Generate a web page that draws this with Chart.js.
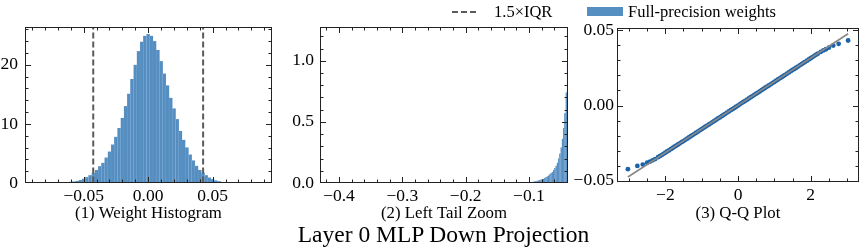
<!DOCTYPE html>
<html>
<head>
<meta charset="utf-8">
<script src="https://cdn.jsdelivr.net/npm/chart.js@4.4.1/dist/chart.umd.min.js"></script>
<style>
  html, body { margin: 0; padding: 0; background: #fff; }
  #wrap { position: relative; width: 863px; height: 248px; overflow: hidden; background: #fff; font-family: "Liberation Serif", serif; color: #000; }
  canvas { position: absolute; top: 0; }
  .txt { position: absolute; white-space: nowrap; }
</style>
</head>
<body>
<div id="wrap">
  <canvas id="c1" width="280" height="224" style="left:0px"></canvas>
  <canvas id="c2" width="297" height="224" style="left:278px"></canvas>
  <canvas id="c3" width="295" height="224" style="left:568px"></canvas>
  <svg class="txt" style="left:452px;top:7px" width="26" height="10"><line x1="0" y1="5" x2="26" y2="5" stroke="#5a5a5a" stroke-width="2" stroke-dasharray="6,3"/></svg>
  <div class="txt" id="leg1" style="left:494px;top:2px;font-size:16.5px;line-height:20px;">1.5×IQR</div>
  <div class="txt" style="left:587px;top:7px;width:36px;height:9px;background:#558ec0;"></div>
  <div class="txt" id="leg2" style="left:628px;top:2px;font-size:16.5px;line-height:20px;">Full-precision weights</div>
  <div class="txt" id="suptitle" style="left:0px;width:887px;text-align:center;top:221px;font-size:23.5px;line-height:26px;">Layer 0 MLP Down Projection</div>
</div>
<script>
// ---------- DATA ----------
const histBinCenters = [-0.0700,-0.0675,-0.0650,-0.0625,-0.0600,-0.0575,-0.0550,-0.0525,-0.0500,-0.0475,-0.0450,-0.0425,-0.0400,-0.0375,-0.0350,-0.0325,-0.0300,-0.0275,-0.0250,-0.0225,-0.0200,-0.0175,-0.0150,-0.0125,-0.0100,-0.0075,-0.0050,-0.0025,0.0000,0.0025,0.0050,0.0075,0.0100,0.0125,0.0150,0.0175,0.0200,0.0225,0.0250,0.0275,0.0300,0.0325,0.0350,0.0375,0.0400,0.0425,0.0450,0.0475,0.0500,0.0525,0.0550,0.0575,0.0600,0.0625,0.0650,0.0675,0.0700];
const histDensity = [0.02,0.04,0.07,0.12,0.18,0.26,0.36,0.5,0.7,1.0,1.3,1.7,2.2,2.8,3.4,4.3,5.3,6.5,7.8,9.3,11.0,13.0,15.1,17.6,20.0,22.3,23.9,24.9,25.2,24.9,24.0,22.5,20.6,18.5,16.5,14.4,12.6,10.8,8.8,7.3,6.0,4.8,3.8,2.9,2.2,1.7,1.3,0.9,0.62,0.42,0.27,0.17,0.11,0.07,0.04,0.02,0.01];
const iqrFences = [-0.0426, 0.0426];

const tailBinCenters = [-0.099,-0.097,-0.095,-0.093,-0.091,-0.089,-0.087,-0.085,-0.083,-0.081,-0.079,-0.077,-0.075,-0.073,-0.071,-0.069,-0.067,-0.065,-0.063,-0.061,-0.059,-0.057,-0.055,-0.053,-0.051,-0.049,-0.047,-0.045,-0.043,-0.041,-0.039];
const tailDensity = [0.005,0.006,0.008,0.01,0.012,0.014,0.017,0.02,0.023,0.027,0.03,0.035,0.04,0.046,0.053,0.06,0.07,0.08,0.09,0.105,0.12,0.14,0.165,0.2,0.24,0.29,0.36,0.45,0.57,0.74,0.97];

const qqTheoretical = [-3.03,-2.77,-2.62,-2.50,-2.42,-2.35,-2.28,
 -2.20,-2.15,-2.10,-2.05,-2.00,-1.95,-1.90,-1.85,-1.80,-1.75,-1.70,-1.65,-1.60,-1.55,-1.50,-1.45,-1.40,-1.35,-1.30,-1.25,-1.20,-1.15,-1.10,-1.05,-1.00,-0.95,-0.90,-0.85,-0.80,-0.75,-0.70,-0.65,-0.60,-0.55,-0.50,-0.45,-0.40,-0.35,-0.30,-0.25,-0.20,-0.15,-0.10,-0.05,
 0.00,0.05,0.10,0.15,0.20,0.25,0.30,0.35,0.40,0.45,0.50,0.55,0.60,0.65,0.70,0.75,0.80,0.85,0.90,0.95,1.00,1.05,1.10,1.15,1.20,1.25,1.30,1.35,1.40,1.45,1.50,1.55,1.60,1.65,1.70,1.75,1.80,1.85,1.90,1.95,2.00,2.05,2.10,2.15,2.20,
 2.28,2.35,2.42,2.50,2.62,2.77,3.03];
const qqSample = [-0.0423,-0.0401,-0.0392,-0.0380,-0.0372,-0.0364,-0.0356,
 -0.0343,-0.0336,-0.0329,-0.0321,-0.0313,-0.0305,-0.0298,-0.0290,-0.0282,-0.0274,-0.0267,-0.0259,-0.0251,-0.0243,-0.0236,-0.0228,-0.0220,-0.0212,-0.0204,-0.0196,-0.0188,-0.0181,-0.0173,-0.0165,-0.0157,-0.0149,-0.0141,-0.0133,-0.0126,-0.0118,-0.0110,-0.0102,-0.0094,-0.0086,-0.0079,-0.0071,-0.0063,-0.0055,-0.0047,-0.0039,-0.0031,-0.0024,-0.0016,-0.0008,
 0.0000,0.0008,0.0016,0.0024,0.0031,0.0039,0.0047,0.0055,0.0063,0.0071,0.0079,0.0086,0.0094,0.0102,0.0110,0.0118,0.0126,0.0133,0.0141,0.0149,0.0157,0.0165,0.0173,0.0181,0.0188,0.0196,0.0204,0.0212,0.0220,0.0228,0.0236,0.0243,0.0251,0.0259,0.0267,0.0275,0.0283,0.0290,0.0298,0.0306,0.0314,0.0322,0.0330,0.0338,0.0345,
 0.0357,0.0366,0.0374,0.0384,0.0398,0.0410,0.0432];
const qqFitX = [-3.03, 3.03];
const qqFitY = [-0.0475, 0.0477];

const histXTicks = [-0.05, 0, 0.05];
const histXTickLabels = ['\u22120.05', '0.00', '0.05'];
const histYTicks = [0, 10, 20];
const histYTickLabels = ['0', '10', '20'];
const tailXTicks = [-0.4, -0.3, -0.2, -0.1];
const tailXTickLabels = ['\u22120.4', '\u22120.3', '\u22120.2', '\u22120.1'];
const tailYTicks = [0, 0.5, 1.0];
const tailYTickLabels = ['0.0', '0.5', '1.0'];
const qqXTicks = [-2, 0, 2];
const qqXTickLabels = ['\u22122', '0', '2'];
const qqYTicks = [-0.05, 0, 0.05];
const qqYTickLabels = ['\u22120.05', '0.00', '0.05'];

const subTitles = ['(1) Weight Histogram', '(2) Left Tail Zoom', '(3) Q-Q Plot'];

// ---------- STYLE / HELPERS ----------
const FONT = '"Liberation Serif", serif';
const BAR_COLOR = '#558ec0';
const BAR_EDGE = '#9dbde0';

const framePlugin = {
  id: 'frame',
  afterDatasetsDraw(chart, args, opts) {
    const { ctx, chartArea: a, scales: { x, y } } = chart;
    const L = Math.round(a.left) + 0.5, R = Math.round(a.right) - 0.5;
    const T = Math.round(a.top) + 0.5, B = Math.round(a.bottom) - 0.5;
    ctx.save();
    if (opts.vlines) {
      ctx.strokeStyle = '#5a5a5a';
      ctx.lineWidth = 2;
      ctx.setLineDash([6, 3]);
      for (const v of opts.vlines) {
        const px = x.getPixelForValue(v);
        ctx.beginPath(); ctx.moveTo(px, B); ctx.lineTo(px, T); ctx.stroke();
      }
      ctx.setLineDash([]);
    }
    ctx.strokeStyle = '#222';
    ctx.lineWidth = 1;
    const tick = (vals, len) => {
      for (const v of vals) {
        const px = Math.round(x.getPixelForValue(v)) + 0.5;
        if (px < L - 0.1 || px > R + 0.1) continue;
        ctx.beginPath(); ctx.moveTo(px, B); ctx.lineTo(px, B - len); ctx.stroke();
        ctx.beginPath(); ctx.moveTo(px, T); ctx.lineTo(px, T + len); ctx.stroke();
      }
    };
    const ytick = (vals, len) => {
      for (const v of vals) {
        const py = Math.round(y.getPixelForValue(v)) + 0.5;
        if (py < T - 0.1 || py > B + 0.1) continue;
        ctx.beginPath(); ctx.moveTo(L, py); ctx.lineTo(L + len, py); ctx.stroke();
        ctx.beginPath(); ctx.moveTo(R, py); ctx.lineTo(R - len, py); ctx.stroke();
      }
    };
    const minors = (scale, step) => {
      const out = [];
      const start = Math.ceil(scale.min / step - 1e-9);
      const end = Math.floor(scale.max / step + 1e-9);
      for (let k = start; k <= end; k++) out.push(k * step);
      return out;
    };
    tick(minors(x, opts.xMinor), 3);
    ytick(minors(y, opts.yMinor), 3);
    tick(x.ticks.map(t => t.value), 5.5);
    ytick(y.ticks.map(t => t.value), 5.5);
    ctx.strokeRect(L, T, R - L, B - T);
    ctx.restore();
  }
};

function axisX(min, max, ticks, labels, title, h) {
  return {
    type: 'linear', min, max, offset: false,
    afterBuildTicks: s => { s.ticks = ticks.map(v => ({ value: v })); },
    afterFit: s => { s.height = h; },
    grid: { display: false, drawTicks: false },
    border: { display: false },
    ticks: {
      padding: 3, maxRotation: 0, autoSkip: false, color: '#000',
      font: { family: FONT, size: 17.5 },
      callback: (v, i) => labels[i]
    },
    title: { display: true, text: title, color: '#000', font: { family: FONT, size: 16.8 }, padding: { top: 0, bottom: 0 } }
  };
}
function axisY(min, max, ticks, labels, w, pad) {
  return {
    type: 'linear', min, max,
    afterBuildTicks: s => { s.ticks = ticks.map(v => ({ value: v })); },
    afterFit: s => { s.width = w; },
    grid: { display: false, drawTicks: false },
    border: { display: false },
    ticks: {
      padding: pad, autoSkip: false, color: '#000',
      font: { family: FONT, size: 17.5 },
      callback: (v, i) => labels[i]
    }
  };
}
const common = {
  responsive: false, animation: false, devicePixelRatio: 1,
  events: [],
  plugins: { legend: { display: false }, tooltip: { enabled: false } }
};

// ---------- PANEL 1 ----------
new Chart(document.getElementById('c1'), {
  type: 'bar',
  data: {
    datasets: [{
      data: histBinCenters.map((c, i) => ({ x: c, y: histDensity[i] })),
      backgroundColor: BAR_COLOR, borderColor: BAR_EDGE,
      borderWidth: { left: 0.3, right: 0.3, top: 0.4, bottom: 0 },
      barPercentage: 1, categoryPercentage: 1
    }]
  },
  options: Object.assign({}, common, {
    layout: { padding: { left: 0, top: 27, right: 8, bottom: 0 } },
    scales: {
      x: axisX(-0.0955, 0.096, histXTicks, histXTickLabels, subTitles[0], 41),
      y: axisY(0, 26.4, histYTicks, histYTickLabels, 25, 7)
    },
    plugins: Object.assign({}, common.plugins, { frame: { vlines: iqrFences, xMinor: 0.01, yMinor: 2 } })
  }),
  plugins: [framePlugin]
});

// ---------- PANEL 2 ----------
new Chart(document.getElementById('c2'), {
  type: 'bar',
  data: {
    datasets: [{
      data: tailBinCenters.map((c, i) => ({ x: c, y: tailDensity[i] })),
      backgroundColor: BAR_COLOR, borderColor: BAR_EDGE,
      borderWidth: { left: 0.3, right: 0.3, top: 0.3, bottom: 0 },
      barPercentage: 1, categoryPercentage: 1
    }]
  },
  options: Object.assign({}, common, {
    layout: { padding: { left: 0, top: 27, right: 7, bottom: 0 } },
    scales: {
      x: axisX(-0.43, -0.0384, tailXTicks, tailXTickLabels, subTitles[1], 41),
      y: axisY(0, 1.276, tailYTicks, tailYTickLabels, 42, 6)
    },
    plugins: Object.assign({}, common.plugins, { frame: { xMinor: 0.02, yMinor: 0.1 } })
  }),
  plugins: [framePlugin]
});

// ---------- PANEL 3 ----------
new Chart(document.getElementById('c3'), {
  type: 'scatter',
  data: {
    datasets: [
      {
        type: 'line',
        data: qqFitX.map((v, i) => ({ x: v, y: qqFitY[i] })),
        borderColor: '#888888', borderWidth: 1.6, pointRadius: 0, fill: false, order: 0
      },
      {
        data: qqTheoretical.map((v, i) => ({ x: v, y: qqSample[i] })),
        backgroundColor: '#1a62a9', borderWidth: 0, pointRadius: 2.4, order: 1
      }
    ]
  },
  options: Object.assign({}, common, {
    layout: { padding: { left: 0, top: 28, right: 1, bottom: 0 } },
    scales: {
      x: axisX(-3.33, 3.33, qqXTicks, qqXTickLabels, subTitles[2], 42),
      y: axisY(-0.0508, 0.0515, qqYTicks, qqYTickLabels, 49, 3)
    },
    plugins: Object.assign({}, common.plugins, { frame: { xMinor: 0.5, yMinor: 0.01 } })
  }),
  plugins: [framePlugin]
});
</script>
</body>
</html>
